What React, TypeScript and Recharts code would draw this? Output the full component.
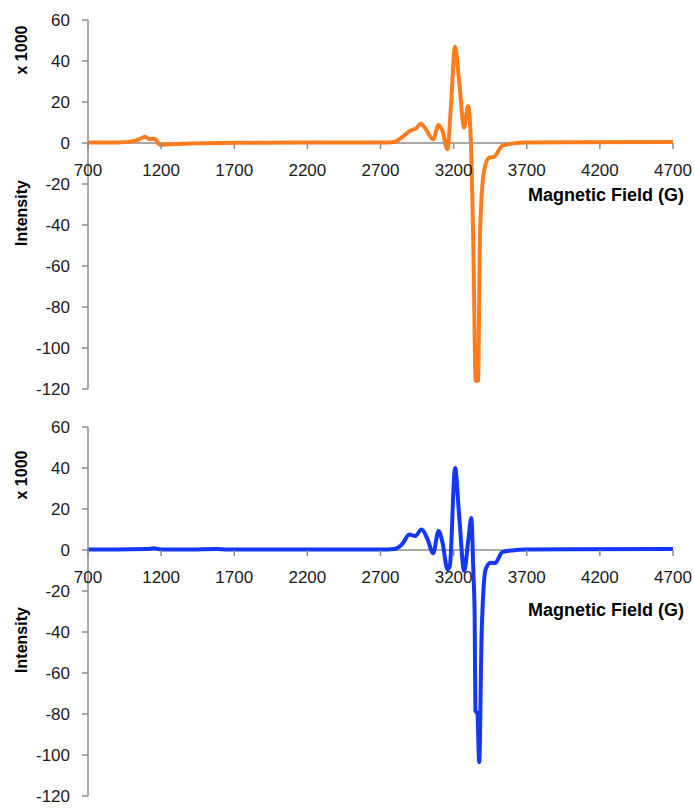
import React from "react";
import { LineChart, Line, XAxis, YAxis, ReferenceLine } from "recharts";

// top spectrum (orange)
const fieldTop = [700, 800, 900, 1000, 1050, 1090, 1118, 1157, 1191, 1260, 1400, 1600, 1800, 2200, 2600, 2750, 2794, 2850, 2908, 2942, 2976, 3010, 3060, 3097, 3124, 3158, 3181, 3210, 3238, 3272, 3299, 3317, 3335, 3351, 3367, 3381, 3408, 3442, 3476, 3531, 3600, 3700, 4000, 4700];
const intensityTop = [0.2, 0.2, 0.3, 0.8, 1.8, 3.1, 1.9, 1.9, -0.8, -0.6, -0.3, 0, 0.1, 0.2, 0.2, 0.3, 0.5, 3, 6.2, 7, 9.4, 6.7, 1.8, 8.8, 5.8, -3, 17, 47, 30, 7.5, 18, 2.6, -51, -116, -116, -43, -13.7, -7.2, -6.8, -1.5, -0.3, 0.2, 0.4, 0.5];

// bottom spectrum (blue)
const fieldBottom = [700, 900, 1100, 1150, 1200, 1400, 1580, 1650, 2000, 2400, 2750, 2794, 2850, 2897, 2937, 2981, 3022, 3060, 3097, 3124, 3158, 3174, 3210, 3238, 3272, 3301, 3321, 3335, 3344, 3349, 3362, 3375, 3392, 3419, 3453, 3483, 3533, 3600, 3700, 4000, 4700];
const intensityBottom = [0.3, 0.3, 0.5, 0.8, 0.3, 0.3, 0.5, 0.3, 0.3, 0.3, 0.3, 0.5, 3, 7.6, 6.8, 10, 5.2, -1.6, 9.3, 3.6, -9.4, -7.8, 40, 16.6, -10.2, 5.2, 15.6, -10.8, -32.5, -78.5, -79.5, -103.5, -40, -9.4, -6.2, -6.4, -1, -0.2, 0.2, 0.4, 0.5];

const xTicks = [700, 1200, 1700, 2200, 2700, 3200, 3700, 4200, 4700];
const yTicks = [60, 40, 20, 0, -20, -40, -60, -80, -100, -120];

const FONT = "'Liberation Sans', Arial, sans-serif";
const AXIS = "#8c8c8c";

interface SpectrumProps {
  field: number[];
  intensity: number[];
  color: string;
  top: number;
  titleY: number;
  x1000Y: number;
  intensityY: number;
}

const Spectrum: React.FC<SpectrumProps> = ({ field, intensity, color, top, titleY, x1000Y, intensityY }) => {
  const data = field.map((f, i) => ({ field: f, value: intensity[i] }));
  const height = 407;
  const marginTop = 20;
  const bottomSpace = 18;
  const plotH = height - marginTop - bottomSpace;
  const zeroY = marginTop + plotH * (60 / 180);

  // Excel-style x axis sitting on the zero line
  const renderTick = (props: any) => {
    const { x, payload } = props;
    return (
      <g>
        <line x1={x} x2={x} y1={zeroY} y2={zeroY + 6} stroke={AXIS} strokeWidth={1.5} />
        <text x={x} y={zeroY + 33} textAnchor="middle" fontSize={17} fill="#1a1a1a" fontFamily={FONT}>
          {payload.value}
        </text>
      </g>
    );
  };

  return (
    <div style={{ position: "absolute", left: 0, top, width: 694, height }}>
      <LineChart width={694} height={height} data={data} margin={{ top: marginTop, right: 21, left: 28, bottom: 8 }}>
        <XAxis
          dataKey="field"
          type="number"
          domain={[700, 4700]}
          ticks={xTicks}
          axisLine={false}
          tickLine={false}
          height={10}
          tick={renderTick}
        />
        <YAxis
          type="number"
          domain={[-120, 60]}
          ticks={yTicks}
          width={60}
          stroke={AXIS}
          tickSize={6}
          tickMargin={12}
          axisLine={{ stroke: AXIS, strokeWidth: 1.5 }}
          tickLine={{ stroke: AXIS, strokeWidth: 1.5 }}
          tick={{ fontSize: 17, fill: "#1a1a1a", fontFamily: FONT }}
        />
        <ReferenceLine y={0} stroke={AXIS} strokeWidth={1.5} />
        <Line
          type="monotone"
          dataKey="value"
          stroke={color}
          strokeWidth={4}
          dot={false}
          isAnimationActive={false}
        />
      </LineChart>
      <svg width={694} height={height} style={{ position: "absolute", left: 0, top: 0, pointerEvents: "none" }}>
        <text x={606} y={titleY} textAnchor="middle" fontSize={18} fontWeight="bold" fontFamily={FONT} fill="#000">
          Magnetic Field (G)
        </text>
        <text transform={`translate(27, ${x1000Y}) rotate(-90)`} textAnchor="middle" fontSize={16} fontWeight="bold" fontFamily={FONT} fill="#000">
          x 1000
        </text>
        <text transform={`translate(27, ${intensityY}) rotate(-90)`} textAnchor="middle" fontSize={16} fontWeight="bold" fontFamily={FONT} fill="#000">
          Intensity
        </text>
      </svg>
    </div>
  );
};

export default function App() {
  return (
    <div style={{ position: "absolute", left: 0, top: 0, width: 694, height: 809, background: "#fff", overflow: "hidden" }}>
      <Spectrum
        field={fieldTop}
        intensity={intensityTop}
        color="#FF7D1E"
        top={0}
        titleY={201}
        x1000Y={50}
        intensityY={213}
      />
      <Spectrum
        field={fieldBottom}
        intensity={intensityBottom}
        color="#1436F5"
        top={407}
        titleY={209}
        x1000Y={68}
        intensityY={233}
      />
    </div>
  );
}
